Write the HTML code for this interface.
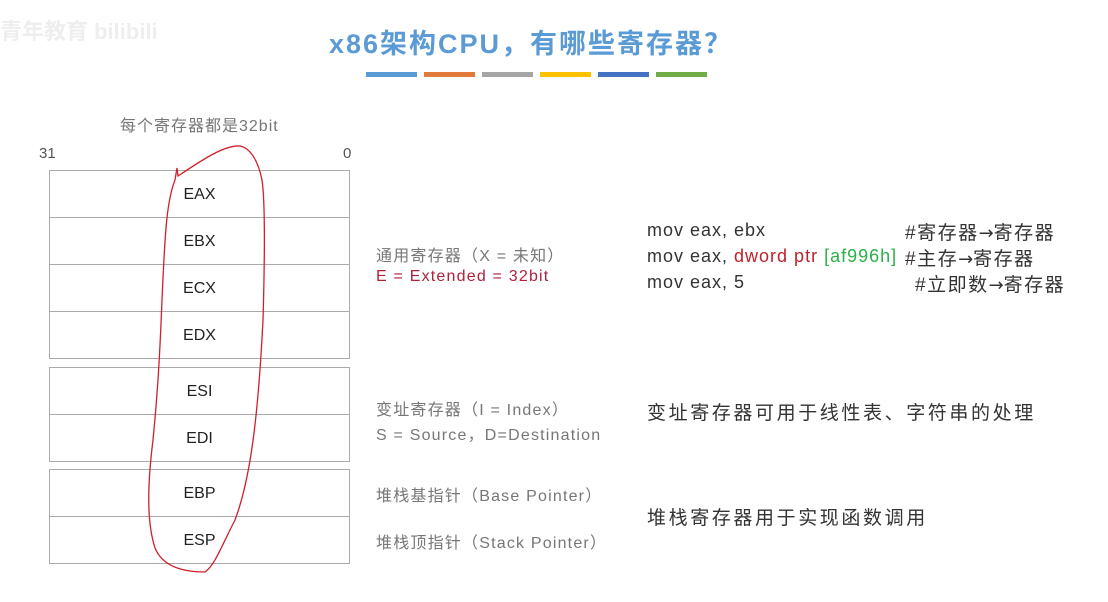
<!DOCTYPE html>
<html><head><meta charset="utf-8"><style>
body{margin:0;width:1108px;height:602px;background:#fff;position:relative;overflow:hidden;font-family:"Liberation Sans","Noto Sans CJK SC",sans-serif}
.t{position:absolute;white-space:nowrap}
.box{position:absolute;left:49px;width:301px;border:1px solid #aaa;box-sizing:border-box}
.row{height:47px;border-bottom:1px solid #aaa;box-sizing:border-box;text-align:center;line-height:47px;font-size:16px;color:#222}
.row:last-child{border-bottom:none}
.bar{position:absolute;top:72px;height:5px;width:51px}
.l{font-size:16px;letter-spacing:1.2px}
.c{font-size:18px;letter-spacing:1px;color:#333}
.m{font-size:19px;letter-spacing:1.5px;color:#333}
.z{font-size:19px;letter-spacing:2.6px;color:#333}
.a{font-family:"DejaVu Sans",sans-serif;font-size:18px;letter-spacing:0}
</style></head><body>
<div class="t" style="left:0;top:14px;font-size:22px;color:#eee;font-weight:bold">青年教育 bilibili</div>
<div class="t" style="left:329px;top:22px;font-size:27px;letter-spacing:2px;font-weight:bold;color:#5b9bd5">x86架构CPU，有哪些寄存器？</div>
<div class="bar" style="left:366px;background:#5b9bd5"></div>
<div class="bar" style="left:424px;background:#e07b39"></div>
<div class="bar" style="left:482px;background:#a5a5a5"></div>
<div class="bar" style="left:540px;background:#ffc000"></div>
<div class="bar" style="left:598px;background:#4472c4"></div>
<div class="bar" style="left:656px;background:#70ad47"></div>
<div class="t" style="left:120px;top:112px;font-size:16px;letter-spacing:1px;color:#777">每个寄存器都是32bit</div>
<div class="t" style="left:39px;top:145px;font-size:15px;color:#555">31</div>
<div class="t" style="left:343px;top:145px;font-size:15px;color:#555">0</div>
<div class="box" style="top:170px;height:189px"><div class="row">EAX</div><div class="row">EBX</div><div class="row">ECX</div><div class="row">EDX</div></div>
<div class="box" style="top:367px;height:95px"><div class="row">ESI</div><div class="row">EDI</div></div>
<div class="box" style="top:469px;height:95px"><div class="row">EBP</div><div class="row">ESP</div></div>
<svg style="position:absolute;left:0;top:0" width="1108" height="602"><path d="M178,176 L177,168 L175,180 C167,200 165,230 162,300 C160,350 158,390 153,440 C148,480 146,520 155,548 C162,565 180,572 205,572 C215,565 222,545 235,520 C250,480 258,420 263,320 C265,250 265,200 262,180 C258,160 250,148 240,146 C225,145 205,158 178,176 Z" fill="none" stroke="#d0202a" stroke-width="1.3"/></svg>
<div class="t l" style="left:376px;top:242px;color:#777">通用寄存器（X = 未知）</div>
<div class="t l" style="left:376px;top:268px;color:#b0203a">E = Extended = 32bit</div>
<div class="t c" style="left:647px;top:220px">mov eax, ebx</div>
<div class="t c" style="left:647px;top:246px">mov eax, <span style="color:#c0202a">dword ptr</span> <span style="color:#2bb04a">[af996h]</span></div>
<div class="t c" style="left:647px;top:272px">mov eax, 5</div>
<div class="t m" style="left:905px;top:218px">#寄存器<span class="a">→</span>寄存器</div>
<div class="t m" style="left:905px;top:244px">#主存<span class="a">→</span>寄存器</div>
<div class="t m" style="left:915px;top:270px">#立即数<span class="a">→</span>寄存器</div>
<div class="t l" style="left:376px;top:396px;color:#777">变址寄存器（I = Index）</div>
<div class="t l" style="left:376px;top:421px;color:#777">S = Source，D=Destination</div>
<div class="t z" style="left:647px;top:398px">变址寄存器可用于线性表、字符串的处理</div>
<div class="t l" style="left:376px;top:482px;color:#777">堆栈基指针（Base Pointer）</div>
<div class="t l" style="left:376px;top:529px;color:#777">堆栈顶指针（Stack Pointer）</div>
<div class="t z" style="left:647px;top:503px">堆栈寄存器用于实现函数调用</div>
</body></html>
